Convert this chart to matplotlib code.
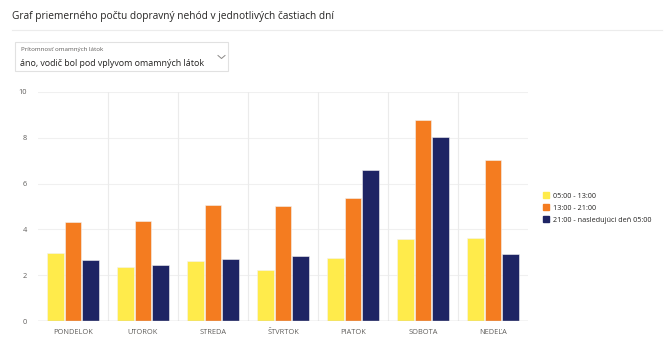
import matplotlib
matplotlib.use('Agg')
import matplotlib.pyplot as plt
from matplotlib.patches import Rectangle
from matplotlib.lines import Line2D
import numpy as np

plt.rcParams['font.family'] = ['Open Sans', 'DejaVu Sans']

# priemerný počet nehôd podľa dňa a časti dňa
dni = ['PONDELOK', 'UTOROK', 'STREDA', 'ŠTVRTOK', 'PIATOK', 'SOBOTA', 'NEDEĽA']
rano = [2.96, 2.37, 2.63, 2.23, 2.74, 3.59, 3.61]      # 05:00 - 13:00
poobede = [4.34, 4.37, 5.05, 5.02, 5.36, 8.76, 7.02]   # 13:00 - 21:00
noc = [2.65, 2.45, 2.71, 2.84, 6.61, 8.02, 2.93]       # 21:00 - nasledujúci deň 05:00
serie = ['05:00 - 13:00', '13:00 - 21:00', '21:00 - nasledujúci deň 05:00']
farby = ['#FFEB4B', '#F47C20', '#1E2464']

W, H = 670, 342
fig = plt.figure(figsize=(W / 100, H / 100), dpi=100)
fig.patch.set_facecolor('white')

def px(x, y):
    return x / W, 1 - y / H

# nadpis a oddeľovač
fig.text(*px(12, 16), 'Graf priemerného počtu dopravný nehód v jednotlivých častiach dní',
         fontsize=7.3, color='#252423', va='center', ha='left')
fig.add_artist(Line2D([12 / W, 662 / W], [1 - 30 / H] * 2, color='#ececec', lw=0.8))

# filter (rozbaľovací zoznam)
bx0, by0 = px(15, 71)
fig.add_artist(Rectangle((bx0, by0), 213 / W, 29 / H, facecolor='white',
                         edgecolor='#e1e1e1', lw=0.8))
fig.text(*px(21, 49), 'Prítomnosť omamných látok', fontsize=4.5, color='#605e5c',
         va='center', ha='left')
fig.text(*px(20, 63), 'áno, vodič bol pod vplyvom omamných látok', fontsize=6.4,
         color='#252423', va='center', ha='left')
fig.add_artist(Line2D([218 / W, 221.5 / W, 225 / W],
                      [1 - 55.5 / H, 1 - 58.5 / H, 1 - 55.5 / H], color='#8a8886', lw=0.7))

# graf
ax = fig.add_axes([38 / W, 21 / H, 490 / W, 229 / H])
x = np.arange(len(dni))
sirka = 0.24
for i, (hodnoty, farba) in enumerate(zip([rano, poobede, noc], farby)):
    ax.bar(x + (i - 1) * 0.25, hodnoty, sirka, color=farba, label=serie[i],
           edgecolor='#f3f3f3', linewidth=0.4, zorder=3)

ax.set_xlim(-0.5, len(dni) - 0.5)
ax.set_ylim(0, 10)
ax.set_yticks([0, 2, 4, 6, 8, 10])
ax.set_xticks(x)
ax.set_xticklabels(dni)
for s in ax.spines.values():
    s.set_visible(False)
ax.tick_params(length=0, labelsize=5.3, labelcolor='#605e5c')
ax.tick_params(axis='y', pad=8)
ax.tick_params(axis='x', pad=6)
for yy in [2, 4, 6, 8, 10]:
    ax.axhline(yy, color='#f0f0f0', lw=0.8, zorder=1)
for xx in np.arange(0.5, len(dni) - 0.5):
    ax.axvline(xx, color='#ebebeb', lw=0.8, zorder=1)
ax.axhline(0, color='#c8c8c8', lw=1.0, zorder=4)

handles = [Rectangle((0, 0), 1, 1, color=f) for f in farby]
fig.legend(handles, serie, loc='center left', bbox_to_anchor=(536 / W, 1 - 208 / H),
           frameon=False, fontsize=5.2, handlelength=0.9, handleheight=0.9,
           handletextpad=0.6, labelspacing=0.6, labelcolor='#252423')

fig.savefig('out.png', dpi=100)
